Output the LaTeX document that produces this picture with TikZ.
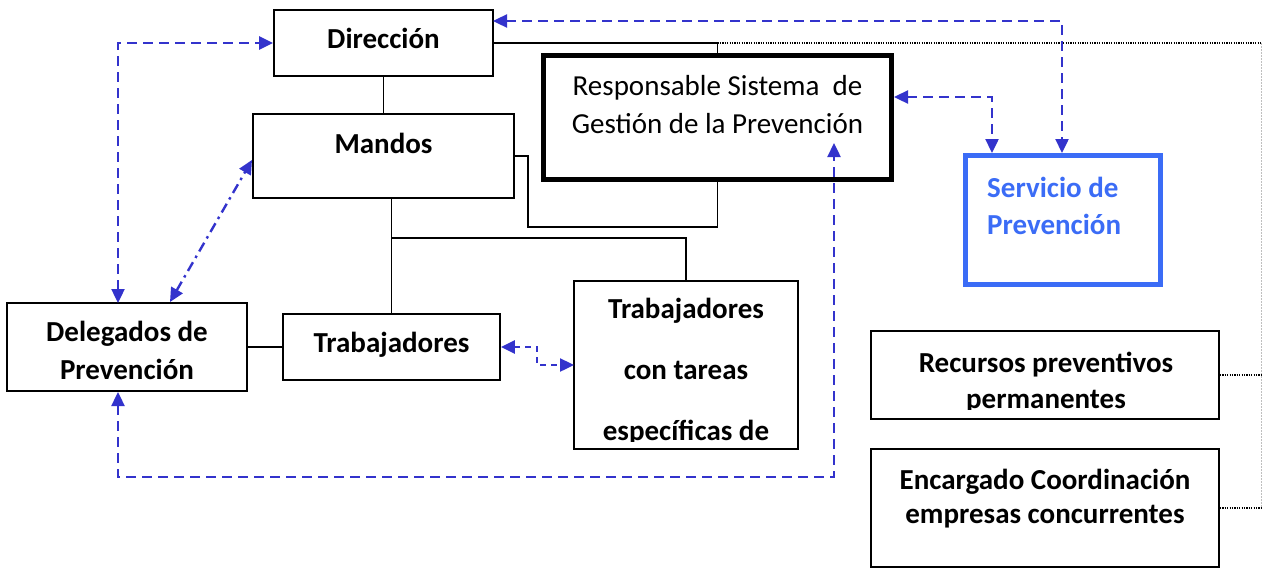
\documentclass[tikz,border=0pt]{standalone}
\usepackage{fontspec}
\setmainfont{Carlito}
\usetikzlibrary{arrows.meta,calc}
\definecolor{arrblue}{RGB}{51,51,204}
\definecolor{servblue}{RGB}{59,108,246}
\begin{document}
\begin{tikzpicture}[x=1pt,y=-1pt,
  box/.style={draw, line width=1.8pt, inner sep=0pt},
  conn/.style={draw, line width=1.8pt},
  dotl/.style={draw, line width=1.5pt, dash pattern=on 1.2pt off 1.2pt},
  grayd/.style={draw, gray!50, line width=1pt, dash pattern=on 1.5pt off 1.5pt},
  lbl/.style={font=\fontsize{29}{35}\selectfont\bfseries, anchor=base, inner sep=0pt},
  rlbl/.style={font=\fontsize{29}{35}\selectfont, anchor=base, inner sep=0pt},
  tipb/.tip={Triangle[length=14pt,width=13pt]},
  blar/.style={arrblue, line width=2.4pt, dash pattern=on 10pt off 6pt, tipb-tipb},
  blsh/.style={arrblue, line width=2.4pt, dash pattern=on 6pt off 5pt, tipb-tipb},
  bldd/.style={arrblue, line width=2.4pt, dash pattern=on 10pt off 5pt on 2.5pt off 5pt, tipb-tipb}]
\useasboundingbox (0,0) rectangle (1263,568);

% boxes
\node[box, minimum width=219pt, minimum height=66pt] (dir) at (383.5,43) {};
\node[box, minimum width=261pt, minimum height=84pt] (man) at (383.5,156) {};
\node[draw, line width=5pt, inner sep=0pt, minimum width=348pt, minimum height=124pt] (resp) at (717.5,117.5) {};
\node[draw=servblue, line width=5pt, inner sep=0pt, minimum width=195pt, minimum height=129pt] (serv) at (1063,220) {};
\node[box, minimum width=240pt, minimum height=88pt] (del) at (127,347) {};
\node[box, minimum width=217pt, minimum height=66pt] (trab) at (391.5,347) {};
\node[box, minimum width=224pt, minimum height=168pt] (tct) at (686,365) {};
\node[box, minimum width=348pt, minimum height=88pt] (rec) at (1045,375) {};
\node[box, minimum width=348pt, minimum height=118pt] (enc) at (1045,508) {};

% texts
\node[lbl] (dirT) at (383.5,48) {Dirección};
\node[lbl] (manT) at (383.5,153) {Mandos};
\node[rlbl] (respT1) at (717.5,95) {Responsable Sistema\ \ de};
\node[rlbl] (respT2) at (717.5,133) {Gestión de la Prevención};
\node[lbl, anchor=base west, text=servblue] (servT1) at (987,197) {Servicio de};
\node[lbl, anchor=base west, text=servblue] (servT2) at (987,234) {Prevención};
\node[lbl] (delT1) at (127,341) {Delegados de};
\node[lbl] (delT2) at (127,379) {Prevención};
\node[lbl] (trabT) at (391.5,352) {Trabajadores};
\begin{scope}
  \clip (574,281) rectangle (798,441);
  \node[lbl] (tctT1) at (686,318) {Trabajadores};
  \node[lbl] (tctT2) at (686,379) {con tareas};
  \node[lbl] (tctT3) at (686,440) {específicas de};
\end{scope}
\begin{scope}
  \clip (871,331) rectangle (1219,409);
  \node[lbl] (recT1) at (1046,372) {Recursos preventivos};
  \node[lbl] (recT2) at (1046,408) {permanentes};
\end{scope}
\node[lbl] (encT1) at (1045,489) {Encargado Coordinación};
\node[lbl] (encT2) at (1045,523) {empresas concurrentes};

% solid connectors
\draw[conn] (dir.south) -- (man.north);
\draw[conn] (man.south -| trab.north) -- (trab.north);
\coordinate (brL) at (392,238);
\draw[conn] (brL) -| (tct.north);
\draw[conn] (del.east) -- (trab.west);
\coordinate (k1) at (528,227);
\draw[conn] (man.east) -| (k1) -| (resp.south);
\draw[conn] (dir.east) -| (resp.north);

% dotted connectors
\coordinate (dotC) at (1261,43);
\coordinate (dotB) at (1261,508);
\draw[dotl] (resp.north |- dir.east) -- (dotC);
\draw[grayd] (dotC) -- (dotB);
\draw[dotl] (rec.east) -- (rec.east -| dotC);
\draw[dotl] (enc.east) -- (dotB);

% blue arrows
\coordinate (dTopL) at (118,303);
\draw[blar] (dTopL) |- (dir.west);
\coordinate (dTopR) at (493,21);
\coordinate (sTop2) at (1062,153);
\draw[blar] (dTopR) -| (sTop2);
\coordinate (rR) at (894,97);
\coordinate (sTop1) at (992,153);
\draw[blar] (rR) -| (sTop1);
\coordinate (mL) at (252,160);
\coordinate (dT2) at (170,302);
\draw[bldd] (dT2) -- (mL);
\coordinate (tc1) at (537,347);
\coordinate (tcL) at (574,365);
\draw[blsh] (trab.east) -- (tc1) |- (tcL);
\coordinate (dB) at (118,392);
\coordinate (loopL) at (118,477);
\coordinate (loopR) at (834,477);
\coordinate (rIn) at (834,143);
\draw[blar] (dB) -- (loopL) -- (loopR) -- (rIn);
\end{tikzpicture}
\end{document}
